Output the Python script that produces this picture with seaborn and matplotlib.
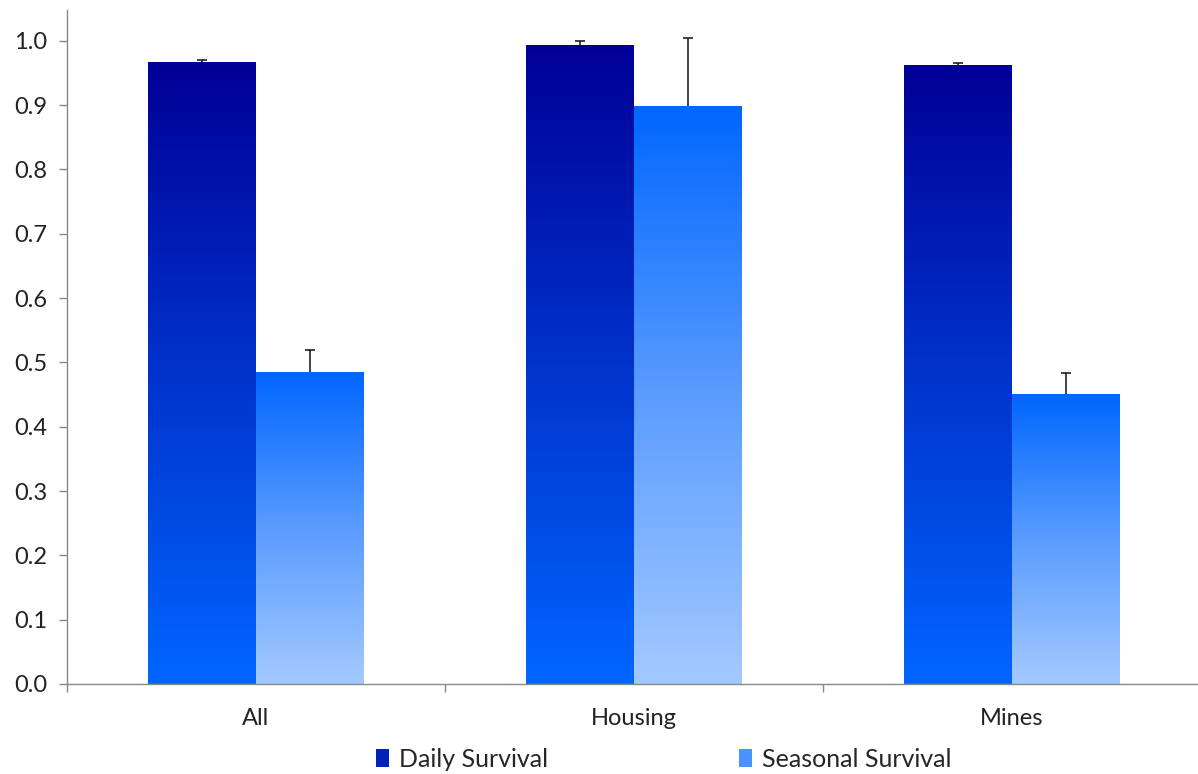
import numpy as np
import pandas as pd
import matplotlib
matplotlib.use("Agg")
import matplotlib.pyplot as plt
import seaborn as sns
from matplotlib.colors import LinearSegmentedColormap
from matplotlib.patches import Patch

categories = ["All", "Housing", "Mines"]
series = ["Daily Survival", "Seasonal Survival"]
daily = [0.967, 0.994, 0.962]
seasonal = [0.485, 0.899, 0.451]
daily_err = [0.003, 0.006, 0.004]
seasonal_err = [0.034, 0.106, 0.033]

df = pd.DataFrame({
    "Category": categories * 2,
    "Series": [series[0]] * 3 + [series[1]] * 3,
    "Value": daily + seasonal,
})
errs = {series[0]: daily_err, series[1]: seasonal_err}

grad = {
    series[0]: LinearSegmentedColormap.from_list("d", ["#0066FF", "#0033CC", "#000096"]),
    series[1]: LinearSegmentedColormap.from_list("s", ["#A4C9FF", "#5A9CFF", "#0066FF"]),
}

sns.set_style("white")
plt.rcParams["font.family"] = ["Lato", "DejaVu Sans"]

fig = plt.figure(figsize=(11.98, 7.74), dpi=100)
ax = fig.add_axes([67 / 1198, 1 - 684 / 774, (1201 - 67) / 1198, (684 - 10) / 774])

sns.barplot(data=df, x="Category", y="Value", hue="Series", order=categories,
            hue_order=series, palette=["#0033CC", "#3388FF"], width=0.57,
            errorbar=None, ax=ax, legend=False, linewidth=0)

# Gradient fills and upper-only error bars
patches = [p for p in ax.patches]
grad_img = np.linspace(0, 1, 256).reshape(-1, 1)
for i, s in enumerate(series):
    for j, cat in enumerate(categories):
        p = patches[i * 3 + j]
        x0 = p.get_x(); w = p.get_width(); h = p.get_height()
        im = ax.imshow(grad_img, cmap=grad[s], origin="lower", aspect="auto",
                       extent=[x0, x0 + w, 0, h], zorder=2)
        im.set_clip_path(p)
        p.set_alpha(0)
        xc = x0 + w / 2
        top = h + errs[s][j]
        ax.vlines(xc, h, top, color="#111111", linewidth=1.1, zorder=3)
        ax.hlines(top, xc - 0.0135, xc + 0.0135, color="#111111", linewidth=1.1, zorder=3)

ax.set_xlim(-0.5, 2.5)
ax.set_ylim(0, 1.048)
ax.set_yticks(np.arange(0, 1.01, 0.1))
ax.set_yticklabels([f"{v:.1f}" for v in np.arange(0, 1.01, 0.1)])
ax.set_xlabel("")
ax.set_ylabel("")
ax.set_xticks([0, 1, 2])
ax.set_xticklabels(categories)
ax.set_xticks([-0.5, 0.5, 1.5, 2.5], minor=True)
ax.tick_params(axis="x", which="major", length=0, pad=17, labelsize=17, labelcolor="#222222")
ax.tick_params(axis="x", which="minor", length=6, color="#888888", width=1)
ax.tick_params(axis="y", length=6, color="#888888", width=1, labelsize=17, pad=8, labelcolor="#222222")
ax.tick_params(axis="y", left=True)
ax.tick_params(axis="x", bottom=True, which="both")
for side in ["top", "right"]:
    ax.spines[side].set_visible(False)
for side in ["left", "bottom"]:
    ax.spines[side].set_color("#888888")
    ax.spines[side].set_linewidth(1)

handles = [Patch(facecolor="#0022BB", edgecolor="none"), Patch(facecolor="#4A92FF", edgecolor="none")]
fig.legend(handles, series, loc="center", bbox_to_anchor=(0.554, 0.019), ncol=2,
           frameon=False, fontsize=18, columnspacing=7.6, handlelength=0.55,
           handleheight=0.75, handletextpad=0.4)

fig.savefig("out.png", dpi=100)
